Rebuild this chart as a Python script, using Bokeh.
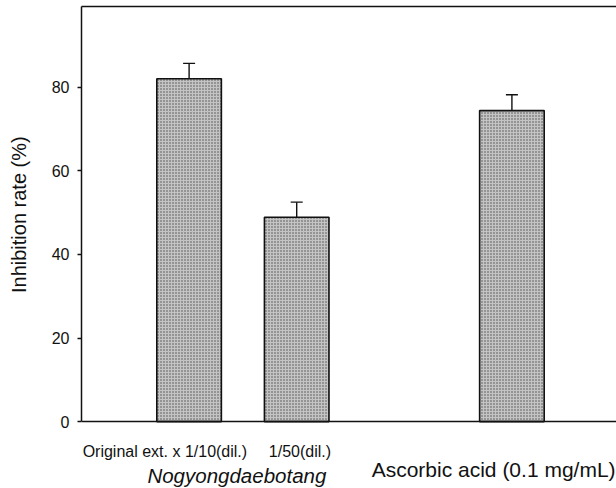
from bokeh.plotting import figure
from bokeh.models import (Range1d, LinearAxis, FixedTicker, Whisker, Span,
                          ColumnDataSource, TeeHead)
from bokeh.core.properties import value
from bokeh.embed import file_html
from bokeh.resources import INLINE

# ---- data ----
categories = ["Original ext. x 1/10(dil.)", "1/50(dil.)", "Ascorbic acid (0.1 mg/mL)"]
group_label = "Nogyongdaebotang"
y_title = "Inhibition rate (%)"
x_pos = [1, 2, 4]
values = [82.0, 48.9, 74.4]
errors = [3.7, 3.6, 3.8]
y_ticks = [0, 20, 40, 60, 80]

FONT = "Liberation Sans"
INK = "#111111"

src = ColumnDataSource(dict(
    x=x_pos, top=values,
    upper=[v + e for v, e in zip(values, errors)],
))

p = figure(width=616, height=488, output_backend="svg", toolbar_location=None,
           x_range=Range1d(0, 4.972), y_range=Range1d(-16.0, 99.3),
           min_border_left=81, min_border_right=0, min_border_top=6,
           min_border_bottom=0, x_axis_location=None, y_axis_location=None)
p.outline_line_color = None
p.grid.visible = False
p.background_fill_color = "white"
p.border_fill_color = "white"

# left axis (only from 0 to top)
yax = LinearAxis(ticker=FixedTicker(ticks=y_ticks), bounds=(0, 99.3))
yax.major_label_text_font = FONT
yax.major_label_text_font_size = "16px"
yax.major_label_text_color = INK
yax.major_label_standoff = 8
yax.major_tick_in = 0
yax.major_tick_out = 4
yax.minor_tick_line_color = None
yax.axis_line_width = 1.5
yax.axis_line_color = INK
yax.major_tick_line_color = INK
yax.major_tick_line_width = 1.5
p.add_layout(yax, "left")

# y title as a second, line-less axis so it is centred on the 0..top span
tax = LinearAxis(ticker=FixedTicker(ticks=[49.5]), major_label_overrides={49.5: y_title})
tax.axis_line_color = None
tax.major_tick_line_color = None
tax.minor_tick_line_color = None
tax.major_label_orientation = "parallel"
tax.major_label_text_font = FONT
tax.major_label_text_font_size = "20px"
tax.major_label_text_color = INK
tax.major_label_standoff = 12
p.add_layout(tax, "left")

# top line
top_ax = LinearAxis(ticker=FixedTicker(ticks=[]))
top_ax.major_tick_line_color = None
top_ax.minor_tick_line_color = None
top_ax.major_label_text_font_size = "0px"
top_ax.axis_line_width = 1.5
top_ax.axis_line_color = INK
p.add_layout(top_ax, "above")

# baseline at y = 0
p.add_layout(Span(location=0, dimension="width", line_color=INK, line_width=1.5))

# bars
p.vbar(x="x", top="top", bottom=0, width=0.6, source=src,
       fill_color="#c4c4c4", line_color=INK, line_width=1.6,
       hatch_pattern="dot", hatch_color="#4a4a4a", hatch_scale=3, hatch_weight=1)

# error bars (upper only)
w = Whisker(base="x", lower="top", upper="upper", source=src,
            line_color=INK, line_width=1.4,
            upper_head=TeeHead(size=12, line_color=INK, line_width=1.4),
            lower_head=None)
p.add_layout(w)

# category labels below the baseline
p.text(x=[0.775, 2.03], y=[-7.2, -7.2], text=categories[:2],
       text_align="center", text_baseline="alphabetic",
       text_font=value(FONT), text_font_size="16px", text_color=INK)
p.text(x=[3.83], y=[-11.5], text=[categories[2]],
       text_align="center", text_baseline="alphabetic",
       text_font=value(FONT), text_font_size="21px", text_color=INK)
p.text(x=[1.444], y=[-12.9], text=[group_label],
       text_align="center", text_baseline="alphabetic",
       text_font=value(FONT), text_font_size="20.5px",
       text_font_style="italic", text_color=INK)

open("out.html", "w").write(file_html(p, INLINE))
